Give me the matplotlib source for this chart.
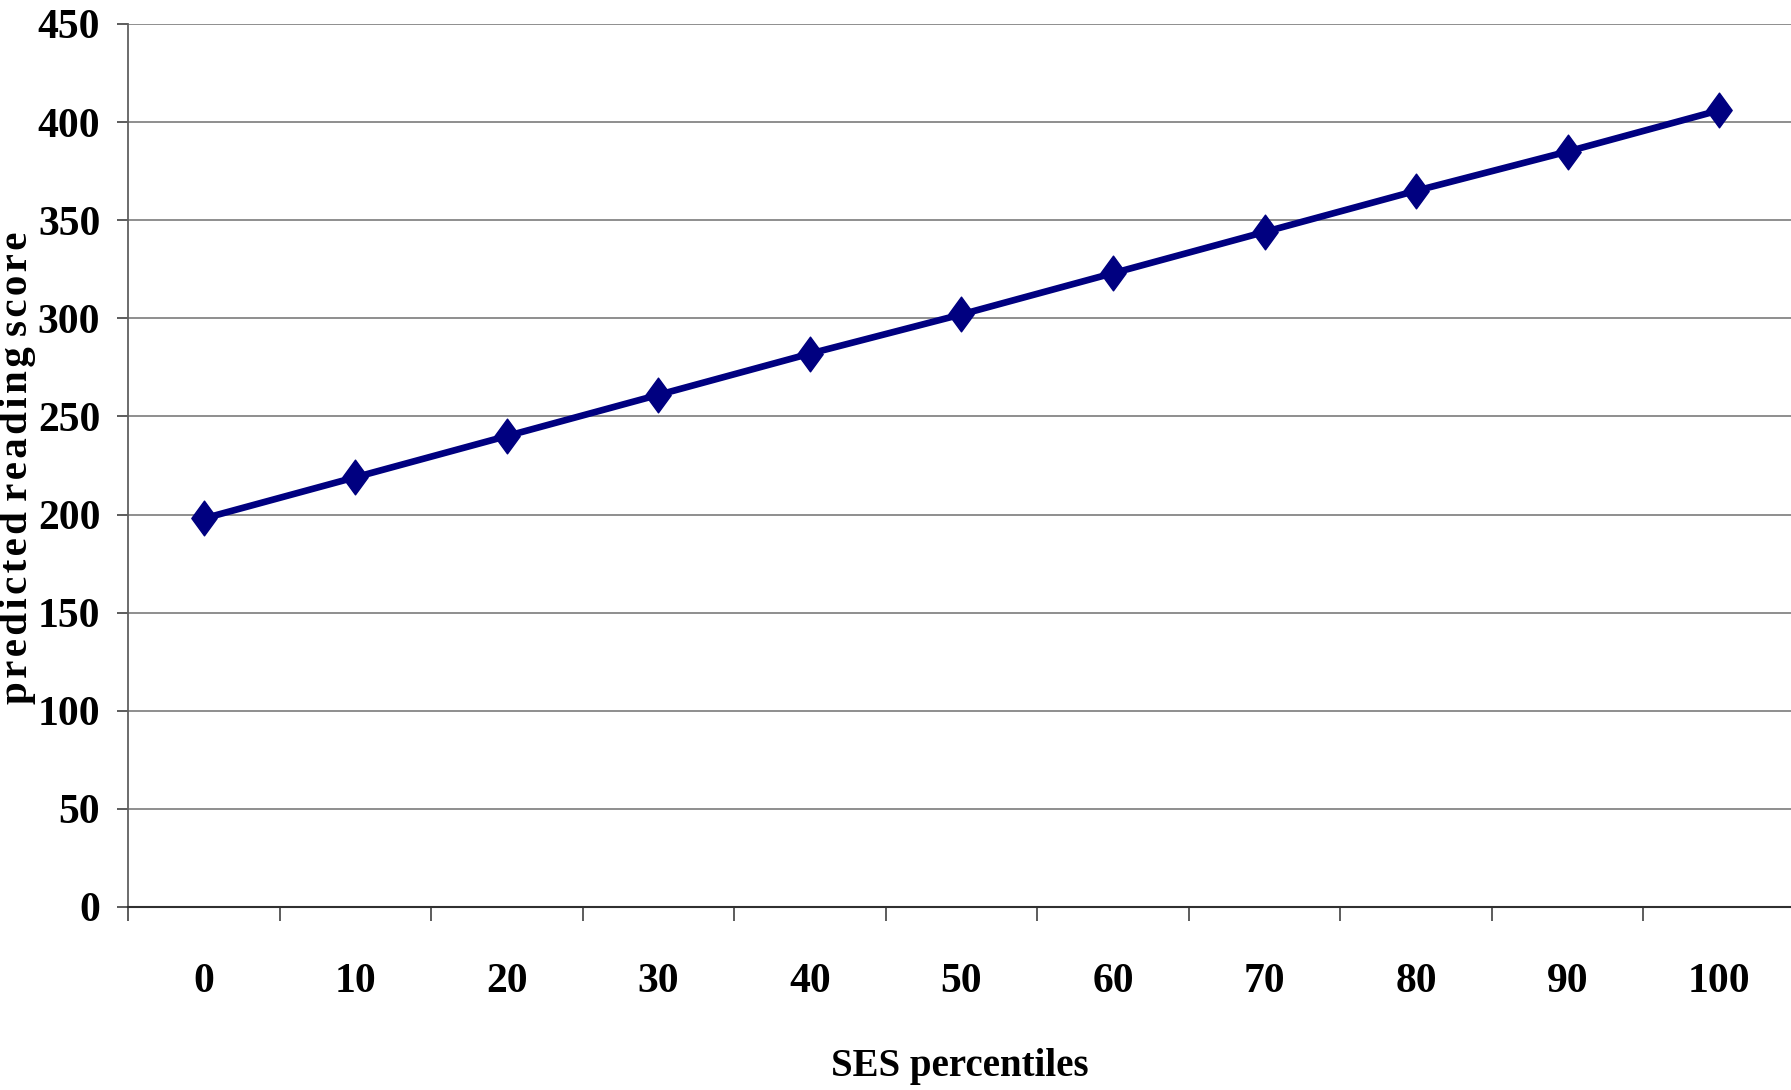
import matplotlib.pyplot as plt
from matplotlib.path import Path

# predicted reading score by SES percentile
percentiles = [0, 10, 20, 30, 40, 50, 60, 70, 80, 90, 100]
scores = [198, 219, 240, 261, 282, 302, 323, 344, 365, 385, 406]
y_ticks = [0, 50, 100, 150, 200, 250, 300, 350, 400, 450]

plt.rcParams['font.family'] = ['Liberation Serif', 'DejaVu Serif']
plt.rcParams['font.weight'] = 'bold'

# tall diamond marker
diamond = Path([(0, 1), (0.73, 0), (0, -1), (-0.73, 0), (0, 1)],
               [Path.MOVETO, Path.LINETO, Path.LINETO, Path.LINETO, Path.CLOSEPOLY])

fig = plt.figure(figsize=(17.91, 10.90), dpi=100)
ax = fig.add_axes([0.0715, 0.1679, 0.9307, 0.8101])

xs = list(range(len(percentiles)))
ax.plot(xs, scores, color='#000080', linewidth=4.8, marker=diamond,
        markersize=25, markeredgecolor='#000080', markerfacecolor='#000080',
        solid_joinstyle='miter', zorder=3)

ax.set_xlim(-0.5, len(percentiles) - 0.5)
ax.set_ylim(0, 450)
ax.set_yticks(y_ticks)
ax.set_yticklabels([str(v) for v in y_ticks])
ax.yaxis.grid(True, color='#707070', linewidth=1.1)
ax.set_axisbelow(True)

# category ticks sit between the points
ax.set_xticks([i - 0.5 for i in range(len(percentiles) + 1)])
ax.set_xticklabels([])
ax.set_xticks(xs, minor=True)
ax.set_xticklabels([str(p) for p in percentiles], minor=True)
ax.tick_params(axis='x', which='minor', length=0, pad=40, labelsize=30)
ax.tick_params(axis='x', which='major', length=10, width=1.1, color='#303030')
ax.tick_params(axis='y', length=8, width=1.1, color='#303030', pad=12, labelsize=30)

for s in ['top', 'right']:
    ax.spines[s].set_visible(False)
ax.spines['left'].set_color('#606060')
ax.spines['left'].set_linewidth(1.3)
ax.spines['bottom'].set_color('#303030')
ax.spines['bottom'].set_linewidth(1.5)

fig.text(0.536, 0.022, 'SES percentiles', ha='center', va='center',
         fontsize=28, fontweight='bold')
hair = '\u200a'
ylab = ' '.join(hair.join(w) for w in ['predicted', 'reading', 'score'])
fig.text(0.0095, 0.571, ylab, rotation=90, ha='center', va='center',
         fontsize=29.5, fontweight='bold')

fig.savefig('out.png', dpi=100)
